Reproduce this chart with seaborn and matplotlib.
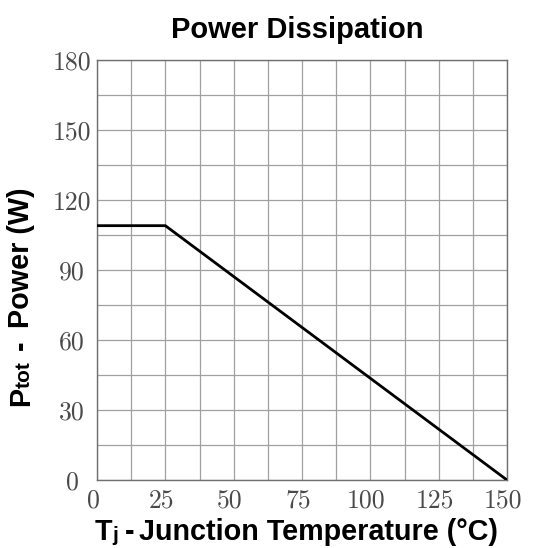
import matplotlib
matplotlib.use("Agg")
import matplotlib.pyplot as plt
import matplotlib.transforms as mtransforms
import seaborn as sns
import pandas as pd

# data
temp_c = [0, 25, 150]
power_w = [109, 109, 0]
x_ticks = [0, 25, 50, 75, 100, 125, 150]
y_ticks = [0, 30, 60, 90, 120, 150, 180]

sns.set_theme(style="white")
plt.rcParams['font.family'] = ['Liberation Sans', 'DejaVu Sans']
plt.rcParams['text.color'] = 'black'
plt.rcParams['axes.labelcolor'] = 'black'

df = pd.DataFrame({"T": temp_c, "P": power_w})

W, H = 535, 548
fig = plt.figure(figsize=(W / 100, H / 100), dpi=100)
ax = fig.add_axes([97 / W, 1 - 480 / H, 410 / W, 420 / H])

ax.set_xlim(0, 150)
ax.set_ylim(0, 180)
ax.set_xticks(x_ticks)
ax.set_yticks(y_ticks)
ax.set_xticks([v + 12.5 for v in x_ticks[:-1]], minor=True)
ax.set_yticks([v + 15 for v in y_ticks[:-1]], minor=True)
ax.grid(True, which='both', color='#a0a0a0', linewidth=0.9)
ax.set_axisbelow(True)

sns.lineplot(data=df, x="T", y="P", color='black', linewidth=2, ax=ax, zorder=3)

ax.set_xticklabels([str(v) for v in x_ticks], family='cmr10', fontsize=18.5)
ax.set_yticklabels([str(v) for v in y_ticks], family='cmr10', fontsize=18.5)
ax.tick_params(axis='both', which='both', length=0, colors='#4a4a4a')
ax.tick_params(axis='y', pad=18)
ax.tick_params(axis='x', pad=6)
for lbl in ax.get_yticklabels():
    lbl.set_ha('center')
shift = mtransforms.ScaledTranslation(-4 / 100, 0, fig.dpi_scale_trans)
for lbl in ax.get_xticklabels():
    lbl.set_transform(lbl.get_transform() + shift)
ax.set_xlabel('')
ax.set_ylabel('')

for s in ax.spines.values():
    s.set_color('#707070')
    s.set_linewidth(1.0)
    s.set_visible(True)


def fx(px):
    return px / W


def fy(py):
    return 1 - py / H


# title
fig.text(fx(297), fy(38), 'Power Dissipation', fontsize=21, fontweight='bold',
         ha='center', va='baseline', color='black')

# x label: T_j - Junction Temperature (°C)
fig.text(fx(95), fy(540), 'T', fontsize=20.7, fontweight='bold',
         ha='left', va='baseline')
fig.text(fx(112), fy(541), 'j', fontsize=15, fontweight='bold',
         ha='left', va='baseline')
fig.text(fx(124.5), fy(540), '-', fontsize=20.7, fontweight='bold',
         ha='left', va='baseline')
fig.text(fx(139), fy(540), 'Junction Temperature (°C)', fontsize=20.7,
         fontweight='bold', ha='left', va='baseline')

# y label: P_tot - Power (W)  (rotated, reading bottom to top)
rot = dict(rotation=90, rotation_mode='anchor', ha='left', va='baseline',
           fontweight='bold')
fig.text(fx(29), fy(406.5), 'P', fontsize=20.7, **rot)
fig.text(fx(29.5), fy(388), 'tot', fontsize=15, **rot)
fig.text(fx(29), fy(350), '-', fontsize=20.7, **rot)
fig.text(fx(29), fy(328), 'Power (W)', fontsize=20.7, **rot)

fig.savefig('out.png', dpi=100)
